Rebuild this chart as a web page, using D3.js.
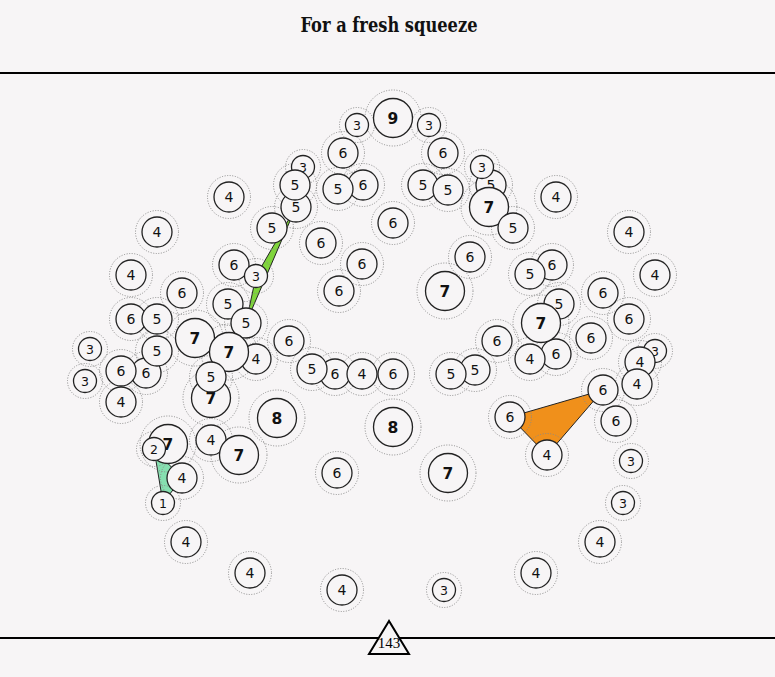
<!doctype html>
<html>
<head>
  <meta charset="utf-8">
  <script src="https://d3js.org/d3.v7.min.js"></script>
  <style>
    body { margin: 0; background: #f7f5f6; }
  </style>
</head>
<body>
  <script>

    // seed counts, in draw order
    var values = [9, 3, 3, 6, 6, 3, 5, 5, 6, 5, 5, 5, 5, 7, 3, 5, 4, 4, 4, 4,
                  5, 6, 6, 6, 6, 6, 3, 4, 4, 6, 5, 6, 7, 6, 5, 5, 6, 6, 5, 5,
                  6, 7, 6, 7, 6, 6, 6, 3, 6, 6, 5, 4, 7, 4, 3, 4, 3, 6, 5, 4,
                  6, 5, 5, 7, 5, 4, 6, 4, 8, 8, 6, 6, 7, 2, 4, 7, 4, 3, 6, 7,
                  4, 1, 3, 4, 4, 4, 4, 4, 3];

    // horizontal position of each seed
    var xs = [1, -8, 10, -11.5, 13.5, -21.5, -23.25, -23.5, -6.5, -12.75,
              8.5, 14.75, 25.5, 25, 23.25, 31, -40, 41.75, -58, 60,
              -29.25, -17, 1, 20.25, -6.75, -38.75, -33.25, -64.5, 66.5, 40.75,
              35.25, -12.5, 14, -51.75, -40.25, 42.5, 53.5, -64.5, -58, -35.75,
              41.75, 38, 60, -48.5, -25, 27, 50.5, -74.75, -60.75, -67,
              -58, -33.25, -40, 35.25, 66.5, 62.75, -76, -13.5, -19.25, -6.75,
              1, 21.5, 15.5, -44.5, -44.5, 62, 53.5, -67, -28, 1,
              30.25, 56.75, -55.25, -58.75, -44.5, -37.5, 39.5, 60.5, -13, 14.75,
              -51.75, -56.5, 58.5, -50.75, 52.75, -34.75, 36.75, -11.75, 13.75];

    // vertical position of each seed
    var ys = [4.5, 6.25, 6.25, 13.25, 13.25, 16.75, 26.75, 21.25, 21.25, 22.25,
              21.25, 22.5, 21.25, 26.75, 16.75, 32, 24.25, 24.25, 33, 33,
              32, 35.75, 30.75, 39.25, 41, 41.25, 44, 43.75, 43.75, 41.25,
              43.5, 47.75, 47.75, 48.25, 51, 51, 48.25, 54.75, 54.75, 55.75,
              63.5, 55.75, 54.75, 59.5, 60.25, 60.25, 59.5, 62.25, 68.25, 67.75,
              62.75, 64.75, 63, 64.75, 62.75, 65.5, 70.25, 68.5, 67.25, 68.5,
              68.5, 67.5, 68.5, 74.5, 69.25, 71, 72.5, 75.5, 79.5, 81.75,
              79.25, 80.25, 86, 87.25, 85, 88.75, 88.75, 90.25, 93.25, 93.25,
              94.5, 100.75, 100.75, 110.5, 110.5, 118.25, 118.25, 122.5, 122.5];

    // highlighted groups (indices into the arrays above)
    var groups = [[6, 26, 39], [70, 66, 76], [73, 80, 81]];
    var groupColors = ["#7fd43c", "#f0901b", "#86dfb0"];

    var total = 143;
    var title = "For a fresh squeeze";

    var width = 775, height = 677;
    var bg = "#f7f5f6";

    var svg = d3.select("body")
                .append("svg")
                .attr("width", width)
                .attr("height", height)
                .style("background", bg);

    // scales
    var x = d3.scaleLinear().domain([-75, 75]).range([89, 689]);
    var y = d3.scaleLinear().domain([0, 125]).range([100, 600]);

    var r = d3.scaleThreshold().domain([4, 7]).range([11.5, 15, 19.5]);
    var ring = d3.scaleThreshold().domain([4, 7]).range([17.5, 21.5, 28]);
    var fontSize = d3.scaleThreshold().domain([4, 7]).range([12.5, 14, 15.5]);

    var seeds = values.map(function (v, i) {
      return { value: v, x: x(xs[i]), y: y(ys[i]) };
    });

    // title
    svg.append("text")
       .attr("x", 389)
       .attr("y", 32)
       .attr("text-anchor", "middle")
       .attr("font-family", "DejaVu Serif Condensed, DejaVu Serif, serif")
       .attr("font-weight", "bold")
       .attr("font-size", 21)
       .attr("textLength", 177)
       .attr("lengthAdjust", "spacingAndGlyphs")
       .attr("fill", "#111")
       .text(title);

    // rules
    svg.append("line")
       .attr("x1", 0).attr("x2", width)
       .attr("y1", 73).attr("y2", 73)
       .attr("stroke", "#000").attr("stroke-width", 2);

    svg.append("line")
       .attr("x1", 0).attr("x2", width)
       .attr("y1", 638).attr("y2", 638)
       .attr("stroke", "#000").attr("stroke-width", 2);

    // highlighted triangles
    svg.append("g")
       .selectAll("polygon")
       .data(groups)
       .enter()
       .append("polygon")
       .attr("points", function (g) {
         return g.map(function (i) { return seeds[i].x + "," + seeds[i].y; }).join(" ");
       })
       .attr("fill", function (g, i) { return groupColors[i]; })
       .attr("stroke", "#222")
       .attr("stroke-width", 1)
       .attr("stroke-linejoin", "round");

    // dotted halos
    svg.append("g")
       .selectAll("circle")
       .data(seeds)
       .enter()
       .append("circle")
       .attr("cx", function (d) { return d.x; })
       .attr("cy", function (d) { return d.y; })
       .attr("r", function (d) { return ring(d.value); })
       .attr("fill", "none")
       .attr("stroke", "#8a8a8a")
       .attr("stroke-width", 1)
       .attr("stroke-dasharray", "1,1.6");

    // seeds
    var nodes = svg.append("g")
       .selectAll("g")
       .data(seeds)
       .enter()
       .append("g")
       .attr("transform", function (d) { return "translate(" + d.x + "," + d.y + ")"; });

    nodes.append("circle")
         .attr("r", function (d) { return r(d.value); })
         .attr("fill", bg)
         .attr("stroke", "#222")
         .attr("stroke-width", 1.3);

    nodes.append("text")
         .attr("text-anchor", "middle")
         .attr("dy", "0.36em")
         .attr("font-family", "DejaVu Sans, sans-serif")
         .attr("font-size", function (d) { return fontSize(d.value); })
         .attr("font-weight", function (d) { return d.value >= 7 ? "bold" : "normal"; })
         .attr("fill", "#111")
         .text(function (d) { return d.value; });

    // total marker
    var marker = svg.append("g").attr("transform", "translate(389,638)");

    marker.append("polygon")
          .attr("points", "0,-17 -20,16 20,16")
          .attr("fill", bg)
          .attr("stroke", "#000")
          .attr("stroke-width", 2);

    marker.append("text")
          .attr("text-anchor", "middle")
          .attr("y", 10)
          .attr("font-family", "Liberation Serif, serif")
          .attr("font-size", 15)
          .attr("fill", "#000")
          .text(total);

  </script>
</body>
</html>
